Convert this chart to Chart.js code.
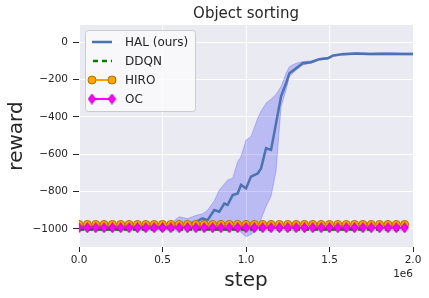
<!DOCTYPE html>
<html><head><meta charset="utf-8">
<script src="https://cdn.jsdelivr.net/npm/chart.js@4/dist/chart.umd.min.js"></script>
<style>html,body{margin:0;padding:0;background:#fff;}#wrap{width:429px;height:298px;}</style>
</head><body><div id="wrap"><canvas id="c" width="429" height="298"></canvas></div>
<script>
// ---- data (steps in millions) ----
const halSteps = [0,0.1,0.2,0.3,0.4,0.5,0.55,0.6,0.65,0.7,0.74,0.77,0.81,0.84,0.87,0.89,0.92,0.95,0.97,1.0,1.03,1.07,1.09,1.12,1.15,1.18,1.21,1.24,1.26,1.3,1.34,1.39,1.44,1.49,1.52,1.58,1.66,1.74,1.84,1.94,2.0];
const halMean  = [-992,-990,-992,-990,-991,-990,-988,-985,-975,-962,-944,-953,-899,-908,-864,-872,-819,-810,-765,-783,-720,-703,-676,-568,-577,-434,-290,-220,-166,-139,-113,-107,-91,-86,-72,-64,-61,-63,-62,-63,-63];
const halUpper = [-976,-975,-976,-975,-975,-975,-970,-935,-945,-928,-919,-900,-850,-792,-760,-738,-729,-640,-613,-524,-506,-408,-370,-327,-305,-280,-238,-166,-131,-113,-104,-100,-86,-81,-67,-59,-56,-58,-57,-58,-58];
const halLower = [-1006,-1005,-1006,-1005,-1005,-1004,-1003,-1000,-998,-995,-989,-990,-992,-994,-995,-996,-997,-1000,-1020,-1042,-1030,-1000,-950,-880,-825,-690,-345,-256,-184,-150,-122,-112,-95,-90,-77,-69,-66,-68,-67,-68,-68];
const markerSteps = [0,0.05,0.1,0.15,0.2,0.25,0.3,0.35,0.4,0.45,0.5,0.55,0.6,0.65,0.7,0.75,0.8,0.85,0.9,0.95,1.0,1.05,1.1,1.15,1.2,1.25,1.3,1.35,1.4,1.45,1.5,1.55,1.6,1.65,1.7,1.75,1.8,1.85,1.9,1.95];
const hiroValues = [-976,-976,-976,-976,-976,-976,-976,-976,-976,-976,-976,-976,-976,-976,-976,-976,-976,-976,-976,-976,-976,-976,-976,-976,-976,-976,-976,-976,-976,-976,-976,-976,-976,-976,-976,-976,-976,-976,-976,-976];
const ocValues   = [-994,-994,-994,-994,-994,-994,-994,-994,-994,-994,-994,-994,-994,-994,-994,-994,-994,-994,-994,-994,-994,-994,-994,-994,-994,-994,-994,-994,-994,-994,-994,-994,-994,-994,-994,-994,-994,-994,-994,-994];
const ddqnSteps  = [0,0.25,0.5,0.75,1.0,1.25,1.5,1.75,1.95];
const ddqnValues = [-1003,-1003,-1003,-1003,-1003,-1003,-1003,-1003,-1003];
const ddqnUpper  = [-996,-996,-996,-996,-996,-996,-996,-996,-996];
const ddqnLower  = [-1012,-1012,-1012,-1012,-1012,-1012,-1012,-1012,-1012];
const yTicks = [-1000,-800,-600,-400,-200,0];
const xTicks = [0,0.5,1.0,1.5,2.0];
const legendLabels = ['HAL (ours)','DDQN','HIRO','OC'];
const titleText = 'Object sorting';
const xTitle = 'step';
const yTitle = 'reward';
const offsetText = '1e6';

const FONT = '"DejaVu Sans", sans-serif';
const TXT = '#262626';
const pts = (xs, ys) => xs.map((x,i)=>({x:x, y:ys[i]}));

// thin diamond marker
function diamondCanvas(){
  const c = document.createElement('canvas'); c.width=9; c.height=11;
  const g = c.getContext('2d');
  g.beginPath(); g.moveTo(4.5,0.6); g.lineTo(8.2,5.5); g.lineTo(4.5,10.4); g.lineTo(0.8,5.5); g.closePath();
  g.fillStyle='#ff00ff'; g.fill(); g.strokeStyle='#b000b0'; g.lineWidth=1; g.stroke();
  return c;
}
const diamond = diamondCanvas();

const bgPlugin = {
  id:'bg',
  beforeDraw(chart){
    const {ctx, chartArea:a} = chart;
    ctx.save(); ctx.fillStyle='#EAEAF2'; ctx.fillRect(a.left,a.top,a.right-a.left,a.bottom-a.top); ctx.restore();
  },
  afterDraw(chart){
    const {ctx, chartArea:a} = chart;
    ctx.save();
    ctx.fillStyle=TXT;
    ctx.textAlign='center'; ctx.textBaseline='middle';
    ctx.font='15px '+FONT; ctx.fillText(titleText,(a.left+a.right)/2,14);
    ctx.font='20px '+FONT; ctx.fillText(xTitle,(a.left+a.right)/2,281);
    ctx.save(); ctx.translate(17,(a.top+a.bottom)/2); ctx.rotate(-Math.PI/2); ctx.fillText(yTitle,0,0); ctx.restore();
    ctx.font='10.5px '+FONT; ctx.textAlign='right'; ctx.fillText(offsetText,a.right,274);
    // legend
    const lx=85, ly=30, lw=110, lh=81;
    ctx.beginPath();
    if (ctx.roundRect) ctx.roundRect(lx+0.5,ly+0.5,lw,lh,3); else ctx.rect(lx+0.5,ly+0.5,lw,lh);
    ctx.fillStyle='rgba(250,250,252,0.85)'; ctx.fill();
    ctx.strokeStyle='#cccccc'; ctx.lineWidth=1; ctx.stroke();
    const rows=[42,61,80,99], x0=92, x1=112;
    // HAL
    ctx.lineCap='butt';
    ctx.strokeStyle='#4C72B0'; ctx.lineWidth=2.5; ctx.setLineDash([]);
    ctx.beginPath(); ctx.moveTo(x0,rows[0]); ctx.lineTo(x1,rows[0]); ctx.stroke();
    // DDQN
    ctx.strokeStyle='#008000'; ctx.lineWidth=2.5; ctx.setLineDash([5,4]);
    ctx.beginPath(); ctx.moveTo(x0+1,rows[1]); ctx.lineTo(x1,rows[1]); ctx.stroke();
    ctx.setLineDash([]);
    // HIRO
    ctx.strokeStyle='#FFA500'; ctx.lineWidth=2;
    ctx.beginPath(); ctx.moveTo(x0,rows[2]); ctx.lineTo(x1,rows[2]); ctx.stroke();
    [x0,x1].forEach(x=>{ctx.beginPath(); ctx.arc(x,rows[2],4,0,Math.PI*2); ctx.fillStyle='#FFA500'; ctx.fill(); ctx.strokeStyle='#B07000'; ctx.lineWidth=1; ctx.stroke();});
    // OC
    ctx.strokeStyle='#FF00FF'; ctx.lineWidth=2;
    ctx.beginPath(); ctx.moveTo(x0,rows[3]); ctx.lineTo(x1,rows[3]); ctx.stroke();
    [x0,x1].forEach(x=>{ctx.drawImage(diamond,x-4.5,rows[3]-5.5);});
    ctx.fillStyle=TXT; ctx.font='12px '+FONT; ctx.textAlign='left'; ctx.textBaseline='middle';
    legendLabels.forEach((t,i)=>ctx.fillText(t,125,rows[i]+0.5));
    ctx.restore();
  }
};

new Chart(document.getElementById('c'), {
  type:'line',
  data:{ datasets:[
    { label:'OC', data:pts(markerSteps,ocValues), borderColor:'#FF00FF', borderWidth:2, pointStyle:diamond, pointRadius:5, fill:false, order:0, tension:0 },
    { label:'HIRO', data:pts(markerSteps,hiroValues), borderColor:'#FFA500', borderWidth:2, pointStyle:'circle', pointRadius:4, pointBackgroundColor:'#FFA500', pointBorderColor:'#B07000', pointBorderWidth:1, fill:false, order:1, tension:0 },
    { label:'DDQN', data:pts(ddqnSteps,ddqnValues), borderColor:'#008000', borderWidth:2.5, borderDash:[5,4], pointRadius:0, fill:false, order:2 },
    { label:'ddqnUp', data:pts(ddqnSteps,ddqnUpper), borderColor:'rgba(0,128,0,0)', borderWidth:0, pointRadius:0, fill:'+1', backgroundColor:'rgba(0,128,0,0.2)', order:3 },
    { label:'ddqnLo', data:pts(ddqnSteps,ddqnLower), borderColor:'rgba(0,128,0,0)', borderWidth:0, pointRadius:0, fill:false, order:3 },
    { label:'HAL (ours)', data:pts(halSteps,halMean), borderColor:'#4C72B0', borderWidth:2.5, pointRadius:0, fill:false, order:4, tension:0 },
    { label:'halUp', data:pts(halSteps,halUpper), borderColor:'rgba(0,0,255,0.25)', borderWidth:0.8, pointRadius:0, fill:'+1', backgroundColor:'rgba(0,0,255,0.2)', order:5 },
    { label:'halLo', data:pts(halSteps,halLower), borderColor:'rgba(0,0,255,0.25)', borderWidth:0.8, pointRadius:0, fill:false, order:5 }
  ]},
  options:{
    responsive:false, animation:false, devicePixelRatio:1,
    layout:{ padding:{ top:25, right:16, left:0, bottom:0 } },
    plugins:{ legend:{display:false}, title:{display:false}, tooltip:{enabled:false} },
    scales:{
      x:{ type:'linear', min:0, max:2.0,
        afterFit(s){ s.height=51; },
        afterBuildTicks(s){ s.ticks = xTicks.map(v=>({value:v})); },
        ticks:{ callback:v=>v.toFixed(1), color:TXT, font:{family:FONT,size:10.5}, padding:2, maxRotation:0 },
        grid:{ color:'#ffffff', lineWidth:1, tickColor:'#262626', tickLength:5, drawTicks:true },
        border:{ display:false }
      },
      y:{ type:'linear', min:-1097, max:92,
        afterFit(s){ s.width=79; },
        afterBuildTicks(s){ s.ticks = yTicks.map(v=>({value:v})); },
        ticks:{ callback:v=>String(v).replace('-','\u2212'), color:TXT, font:{family:FONT,size:10.5}, padding:5 },
        grid:{ color:'#ffffff', lineWidth:1, tickColor:'#262626', tickLength:6, drawTicks:true },
        border:{ display:false }
      }
    }
  },
  plugins:[bgPlugin]
});
</script></body></html>
